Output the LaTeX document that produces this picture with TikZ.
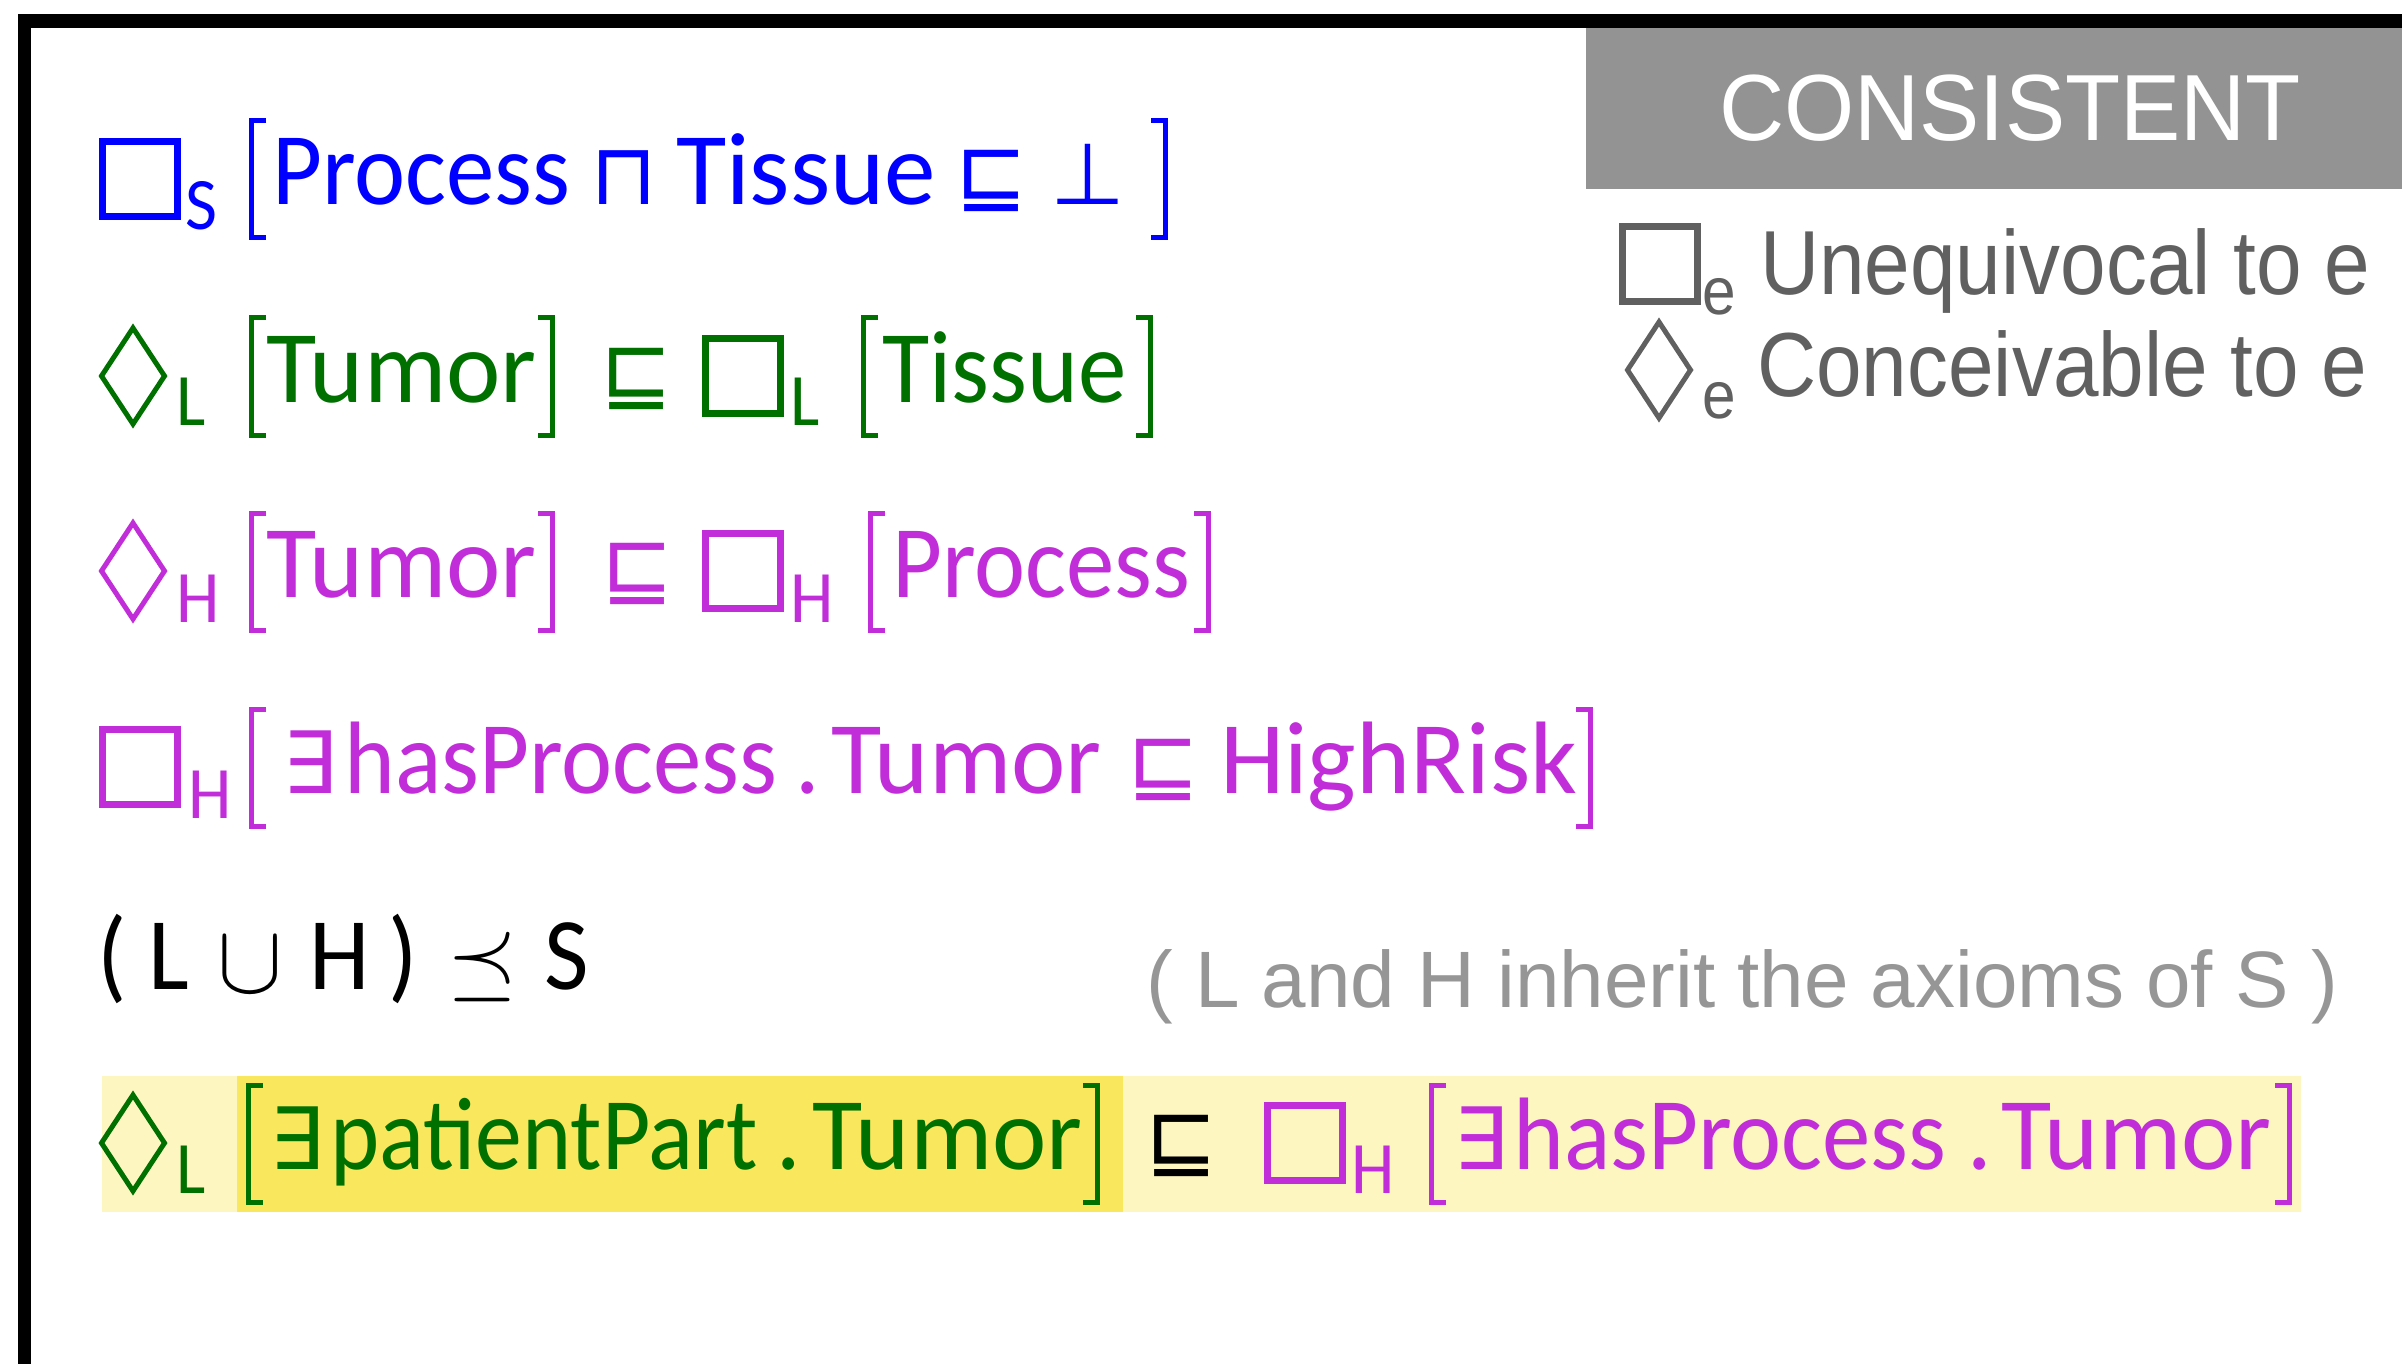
\documentclass[tikz,border=0pt]{standalone}
\usepackage{fontspec}
\setmainfont{Liberation Sans}
\newfontfamily\axfont[FakeStretch=0.94]{Carlito}
\newfontfamily\axwide{Carlito}
\newfontfamily\axnarrow[FakeStretch=0.91]{Carlito}
\newfontfamily\legfont[FakeStretch=0.9]{Liberation Sans}
\newfontfamily\symfont{DejaVu Sans}
\usetikzlibrary{calc}

\definecolor{axblue}{RGB}{0,0,255}
\definecolor{axgreen}{RGB}{0,112,0}
\definecolor{axmag}{RGB}{193,46,217}
\definecolor{tagfill}{RGB}{147,147,147}
\definecolor{leggray}{RGB}{96,96,96}
\definecolor{notegray}{RGB}{150,150,150}
\definecolor{paleband}{RGB}{253,246,193}
\definecolor{strongband}{RGB}{249,231,94}

% modal operators and brackets, x = left edge, #2 = baseline
\newcommand{\necbox}[3]{\draw[opbox,#3] (#1+3.5,#2-63.5) rectangle (#1+78.5,#2+11.5);}
\newcommand{\posdia}[3]{\draw[opdia,#3] (#1+34,#2-74) -- (#1+65.5,#2-26) -- (#1+34,#2+22) -- (#1+2.5,#2-26) -- cycle;}
\newcommand{\lbrak}[3]{\draw[brak,#3] (#1+17,#2-84) -- (#1+2.5,#2-84) -- (#1+2.5,#2+33) -- (#1+17,#2+33);}
\newcommand{\rbrak}[3]{\draw[brak,#3] (#1-17,#2-84) -- (#1-2.5,#2-84) -- (#1-2.5,#2+33) -- (#1-17,#2+33);}

\begin{document}
\begin{tikzpicture}[x=1pt,y=-1pt,
  ax/.style={inner sep=0pt,anchor=base west,font={\axfont\fontsize{103}{110}\selectfont}},
  axw/.style={ax,font={\axwide\fontsize{103}{110}\selectfont}},
  axn/.style={ax,font={\axnarrow\fontsize{103}{110}\selectfont}},
  sub/.style={inner sep=0pt,anchor=base west,font={\axfont\fontsize{74}{80}\selectfont}},
  sym/.style={inner sep=0pt,anchor=base west,font={\symfont\fontsize{86}{90}\selectfont}},
  opbox/.style={line width=7pt},
  opdia/.style={line width=5pt,line join=miter},
  brak/.style={line width=5pt,line join=miter}]
\useasboundingbox (0,0) rectangle (2402,1364);

% frame and tag
\draw[line width=13.5pt] (24.5,1364) -- (24.5,21) -- (2402,21);
\fill[tagfill] (1586,28) rectangle (2402,189);
\node[inner sep=0pt,anchor=base,white,font={\fontspec{Liberation Sans}[FakeStretch=0.96]\fontsize{94}{100}\selectfont}] (tag) at (2010,141) {CONSISTENT};

% legend
\necbox{1619}{290}{leggray}
\node[inner sep=0pt,anchor=base west,leggray,font={\legfont\fontsize{67}{70}\selectfont}] (lege1) at (1702,315) {e};
\node[inner sep=0pt,anchor=base west,leggray,font={\legfont\fontsize{91}{95}\selectfont}] (leg1) at (1760,295) {Unequivocal to e};
\posdia{1625}{396}{leggray}
\node[inner sep=0pt,anchor=base west,leggray,font={\legfont\fontsize{67}{70}\selectfont}] (lege2) at (1702,418) {e};
\node[inner sep=0pt,anchor=base west,leggray,font={\legfont\fontsize{91}{95}\selectfont}] (leg2) at (1757,396) {Conceivable to e};

% row 1
\necbox{99}{205}{axblue}
\node[sub,axblue] (s1) at (185,230) {S};
\lbrak{249}{205}{axblue}
\node[ax,axblue] (r1w1) at (272,205) {Process};
\node[axw,axblue] (r1w2) at (676,205) {Tissue};
\node[sym,axblue] (r1m) at (590,205) {⊓};
\node[sym,axblue] (r1s) at (955,205) {⊑};
\node[sym,axblue] (r1b) at (1050,205) {⊥};
\rbrak{1168}{205}{axblue}

% row 2
\posdia{99}{402}{axgreen}
\node[sub,axgreen] (s2a) at (176,425) {L};
\lbrak{249}{402}{axgreen}
\node[axw,axgreen] (r2w1) at (266,402) {Tumor};
\rbrak{555}{402}{axgreen}
\node[sym,axgreen] (r2s) at (600,402) {⊑};
\necbox{702}{402}{axgreen}
\node[sub,axgreen] (s2b) at (790,425) {L};
\lbrak{861}{402}{axgreen}
\node[ax,axgreen] (r2w2) at (882,402) {Tissue};
\rbrak{1153}{402}{axgreen}

% row 3
\posdia{99}{597}{axmag}
\node[sub,axmag] (s3a) at (176,622) {H};
\lbrak{249}{597}{axmag}
\node[axw,axmag] (r3w1) at (266,597) {Tumor};
\rbrak{555}{597}{axmag}
\node[sym,axmag] (r3s) at (601,597) {⊑};
\necbox{702}{597}{axmag}
\node[sub,axmag] (s3b) at (790,622) {H};
\lbrak{868}{597}{axmag}
\node[ax,axmag] (r3w2) at (892,597) {Process};
\rbrak{1211}{597}{axmag}

% row 4
\necbox{99}{793}{axmag}
\node[sub,axmag] (s4) at (188,818) {H};
\lbrak{249}{793}{axmag}
\node[sym,axmag] (r4e) at (282,793) {∃};
\foreach \x/\w [count=\i] in {344/hasProcess,795/.}
  \node[ax,axmag] (r4w\i) at (\x,793) {\w};
\node[axw,axmag] (r4w3) at (831,793) {Tumor};
\node[axw,axmag] (r4w4) at (1220,793) {HighRisk};
\node[sym,axmag] (r4s) at (1127,793) {⊑};
\rbrak{1593}{793}{axmag}

% row 5
\foreach \x/\w [count=\i] in {97/(,148/L,309/H,388/),544/S}
  \node[ax] (r5w\i) at (\x,989) {\w};
\node[inner sep=0pt,anchor=base west] (r5u) at (217,992) {\scalebox{9.8}{$\cup$}};
\node[inner sep=0pt,anchor=base west] (r5p) at (447,989) {\scalebox{9}{$\preceq$}};
\node[inner sep=0pt,anchor=base west,notegray,font={\fontsize{80}{84}\selectfont}] (note) at (1146,1007) {( L and H inherit the axioms of S )};

% row 6
\fill[paleband] (102,1076) rectangle (2301,1212);
\fill[strongband] (237,1076) rectangle (1123,1212);
\posdia{99}{1169}{axgreen}
\node[sub,axgreen] (s6a) at (176,1193) {L};
\lbrak{246}{1169}{axgreen}
\node[sym,axgreen] (r6e1) at (269,1169) {∃};
\node[axn,axgreen] (r6g1) at (330,1169) {patientPart};
\node[ax,axgreen] (r6g2) at (776,1169) {.};
\node[axw,axgreen] (r6g3) at (812,1169) {Tumor};
\rbrak{1100}{1169}{axgreen}
\node[sym] (r6s) at (1145,1169) {⊑};
\necbox{1264}{1169}{axmag}
\node[sub,axmag] (s6b) at (1351,1193) {H};
\lbrak{1429}{1169}{axmag}
\node[sym,axmag] (r6e2) at (1453,1169) {∃};
\foreach \x/\w [count=\i] in {1513/hasProcess,1967/.}
  \node[ax,axmag] (r6m\i) at (\x,1169) {\w};
\node[axw,axmag] (r6m3) at (2001,1169) {Tumor};
\rbrak{2292}{1169}{axmag}
\end{tikzpicture}
\end{document}
